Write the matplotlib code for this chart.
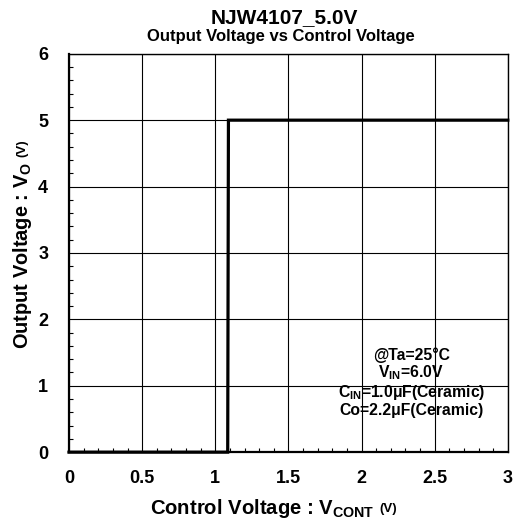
import matplotlib
matplotlib.use("Agg")
import matplotlib.pyplot as plt
from matplotlib.ticker import MultipleLocator

plt.rcParams['font.family'] = ['Liberation Sans', 'DejaVu Sans']
plt.rcParams['mathtext.fontset'] = 'custom'
plt.rcParams['mathtext.rm'] = 'Liberation Sans:bold'
plt.rcParams['mathtext.bf'] = 'Liberation Sans:bold'
plt.rcParams['mathtext.it'] = 'Liberation Sans:bold'

vcont = [0.0, 1.085, 1.09, 3.0]
vout = [0.0, 0.0, 5.0, 5.0]
xticks = [0, 0.5, 1, 1.5, 2, 2.5, 3]
xticklabels = ['0', '0.5', '1', '1.5', '2', '2.5', '3']
yticks = [0, 1, 2, 3, 4, 5, 6]

W, H = 515, 527
fig = plt.figure(figsize=(W / 100, H / 100), dpi=100)
ax = fig.add_axes([0.134, 0.142, 0.852, 0.756])

ax.plot(vcont, vout, color='black', lw=2.3, solid_joinstyle='miter', clip_on=False, zorder=5)

ax.set_xlim(0, 3)
ax.set_ylim(0, 6)
ax.set_xticks(xticks)
ax.set_xticklabels(xticklabels)
ax.set_yticks(yticks)
ax.xaxis.set_minor_locator(MultipleLocator(0.1))
ax.yaxis.set_minor_locator(MultipleLocator(0.2))
ax.grid(True, which='major', color='black', lw=0.8)
ax.tick_params(which='both', direction='in', top=False, right=False)
ax.tick_params(which='major', length=0, labelsize=13)
ax.tick_params(axis='x', which='major', pad=13)
ax.tick_params(axis='y', which='major', pad=15)
ax.tick_params(which='minor', length=3, width=0.8)
for lab in ax.get_xticklabels() + ax.get_yticklabels():
    lab.set_fontweight('bold')

ax.spines['left'].set_linewidth(1.6)
ax.spines['bottom'].set_linewidth(1.6)
ax.spines['top'].set_linewidth(1.0)
ax.spines['right'].set_linewidth(1.0)

xl = fig.text(0.51, 0.024, r'Control Voltage : V$_{\mathbf{CONT}}$',
              fontsize=14.6, fontweight='bold', ha='center', va='baseline')
yl = fig.text(0.054, 0.516, r'Output Voltage : V$_{\mathbf{O}}$',
              fontsize=14.4, fontweight='bold', ha='center', va='baseline',
              rotation=90, rotation_mode='anchor')

fig.text(0.553, 0.967, 'NJW4107_5.0V', fontsize=15, fontweight='bold', ha='center', va='center')
fig.text(0.545, 0.931, 'Output Voltage vs Control Voltage', fontsize=12, fontweight='bold', ha='center', va='center')

note = ('@Ta=25\u00b0C\n' + r'V$_{\mathbf{IN}}$=6.0V' + '\n' + r'C$_{\mathbf{IN}}$=1.0' + '\u03bcF(Ceramic)'
        + '\nCo=2.2\u03bcF(Ceramic)')
ax.text(0.78, 0.175, note, transform=ax.transAxes, ha='center', va='center',
        fontsize=11.3, fontweight='bold', linespacing=1.05)

fig.canvas.draw()
r = fig.canvas.get_renderer()
bx = xl.get_window_extent(r)
fig.text((bx.x1 + 5) / W, 0.024 + 2.5 / H, '(V)', fontsize=9.5, fontweight='bold',
         ha='left', va='baseline')
by = yl.get_window_extent(r)
fig.text(0.054 - 2.5 / W, (by.y1 + 5) / H, '(V)', fontsize=9.5, fontweight='bold',
         ha='left', va='baseline', rotation=90, rotation_mode='anchor')

fig.savefig('out.png', dpi=100)
